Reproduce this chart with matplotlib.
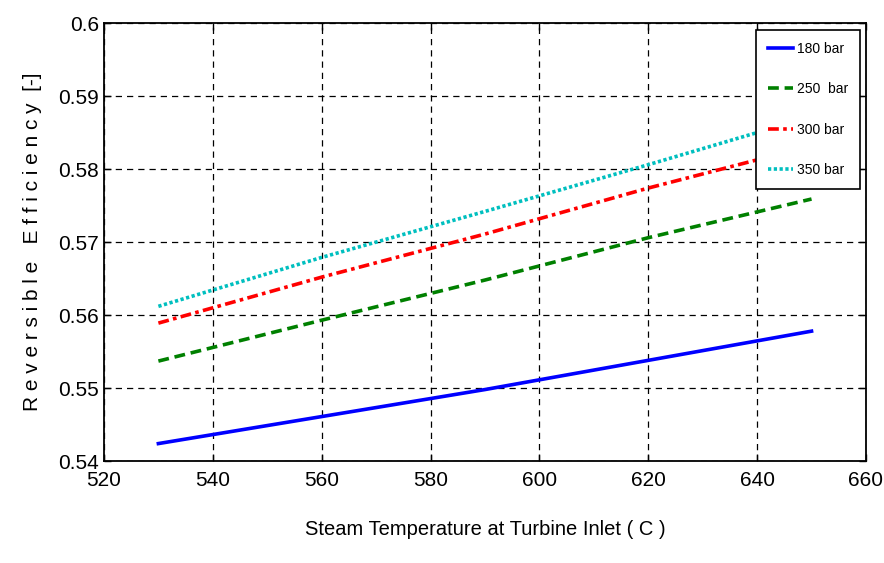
import matplotlib
matplotlib.use("Agg")
import matplotlib.pyplot as plt

temps = [530, 560, 590, 620, 650]
eff_180 = [0.5424, 0.5461, 0.5498, 0.5538, 0.5578]
eff_250 = [0.5537, 0.5593, 0.5648, 0.5706, 0.5759]
eff_300 = [0.5589, 0.5652, 0.5711, 0.5774, 0.5832]
eff_350 = [0.5612, 0.5679, 0.5742, 0.5806, 0.5872]
labels = ["180 bar", "250  bar", "300 bar", "350 bar"]

plt.rcParams['font.family'] = ['Liberation Sans', 'DejaVu Sans']

fig = plt.figure(figsize=(8.84, 5.63), dpi=100)
ax = fig.add_axes([0.1176, 0.181, 0.8620, 0.778])

ax.plot(temps, eff_180, color='#0000ff', lw=2.6, ls='-', label=labels[0])
ax.plot(temps, eff_250, color='#008000', lw=2.6, ls=(0, (3, 1.6)), label=labels[1])
ax.plot(temps, eff_300, color='#ff0000', lw=2.6, ls=(0, (3, 1.2, 1, 1.2)), label=labels[2])
ax.plot(temps, eff_350, color='#00bfbf', lw=2.6, ls=(0, (0.9, 0.7)), label=labels[3])

ax.set_xlim(520, 660)
ax.set_ylim(0.54, 0.60)
ax.set_xticks(range(520, 661, 20))
ax.set_yticks([0.54, 0.55, 0.56, 0.57, 0.58, 0.59, 0.60])
ax.set_yticklabels(['0.54', '0.55', '0.56', '0.57', '0.58', '0.59', '0.6'])
ax.tick_params(direction='in', labelsize=15, length=5, width=1, top=True, right=True)
ax.tick_params(axis='x', pad=7)
ax.grid(True, color='black', ls=(0, (5, 4)), lw=0.9)
for s in ax.spines.values():
    s.set_linewidth(1.3)

ax.set_xlabel('Steam Temperature at Turbine Inlet ( C )', fontsize=14.5, labelpad=22)
ax.set_ylabel('R e v e r s i b l e   E f f i c i e n c y  [-]', fontsize=15, labelpad=12)

leg = ax.legend(loc='upper right', bbox_to_anchor=(0.992, 0.984), borderaxespad=0,
                fontsize=10, frameon=True, fancybox=False, edgecolor='black', framealpha=1,
                handlelength=1.85, labelspacing=1.9, borderpad=0.85, handletextpad=0.25)
leg.get_frame().set_linewidth(1.2)

fig.savefig('out.png', dpi=100)
